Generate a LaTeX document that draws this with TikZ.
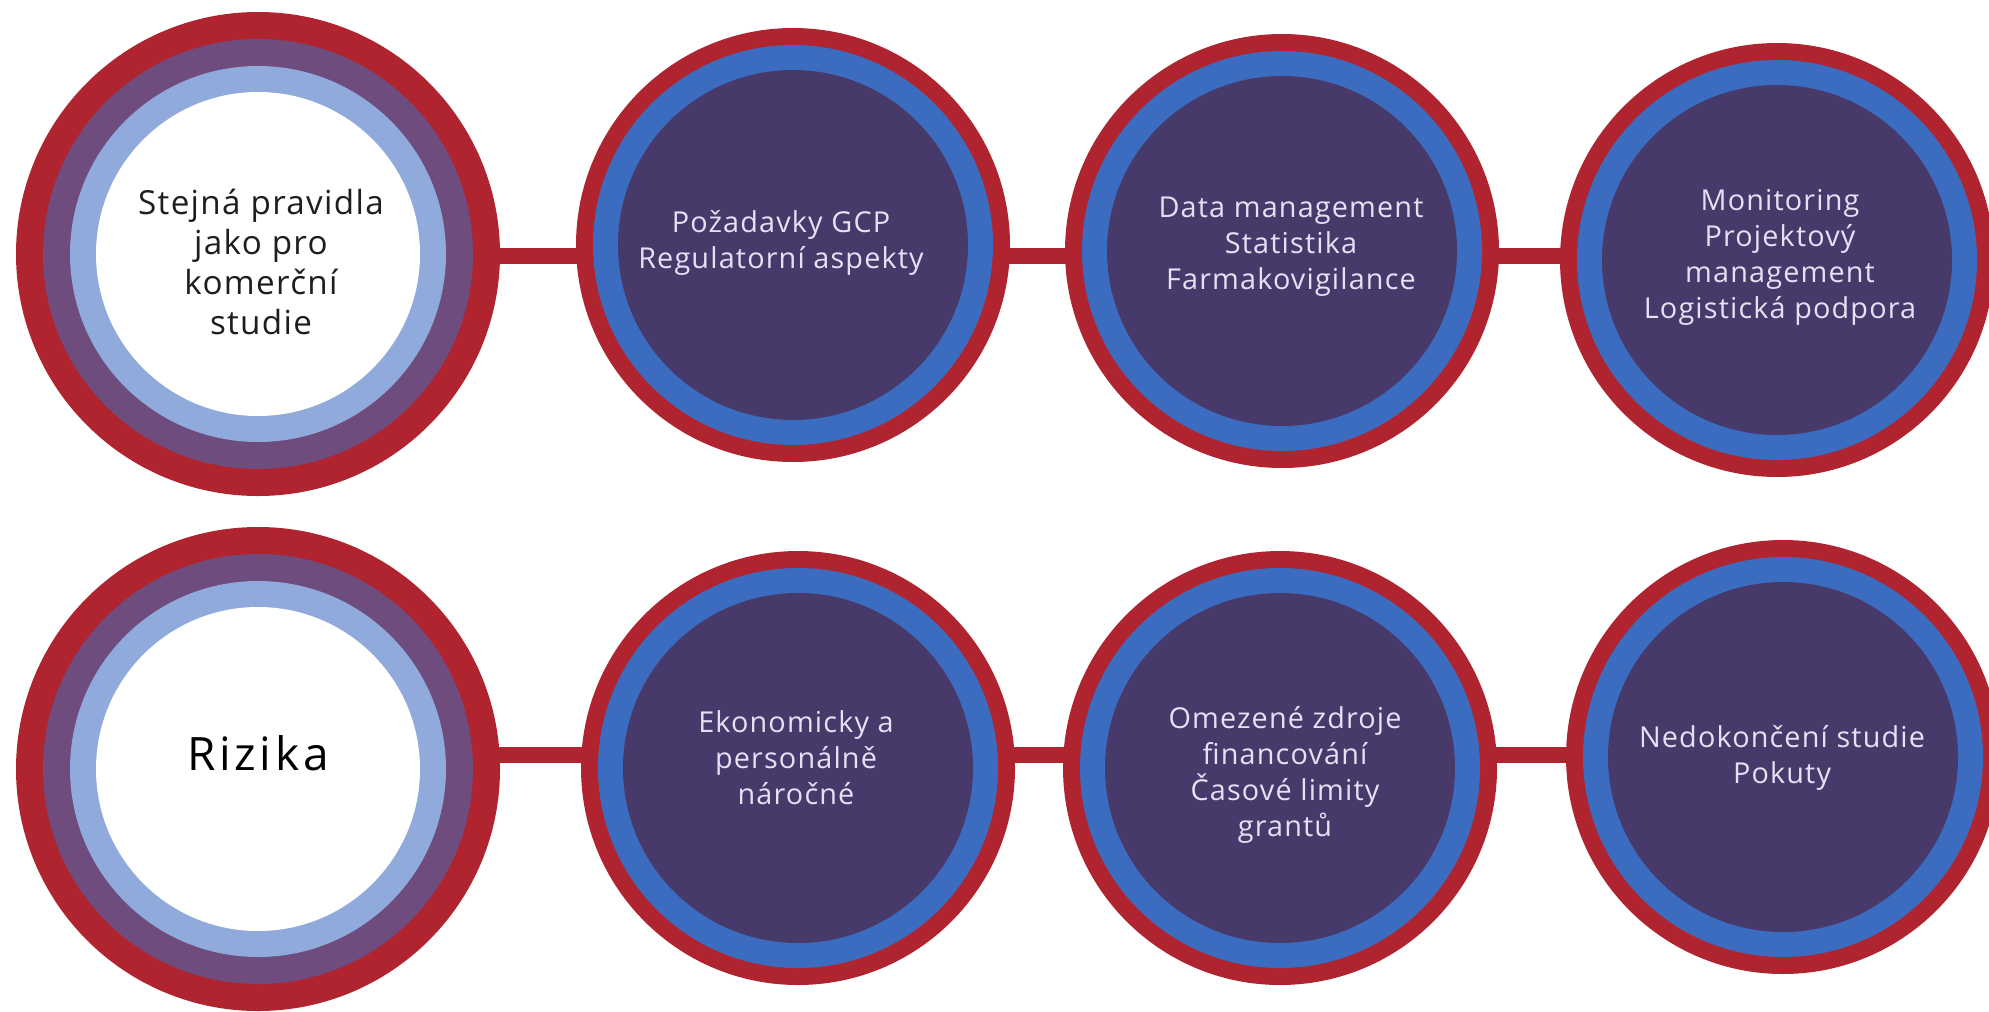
\documentclass[tikz,border=0pt]{standalone}
\usepackage{fontspec}
\setmainfont{Open Sans}[LetterSpace=4]
\newfontfamily\rizfont{Open Sans}[LetterSpace=8]
\usetikzlibrary{backgrounds}
\definecolor{cred}{RGB}{176,36,48}
\definecolor{cpurp}{RGB}{110,76,126}
\definecolor{clblue}{RGB}{143,170,219}
\definecolor{cblue}{RGB}{59,108,192}
\definecolor{cdark}{RGB}{71,58,107}
\definecolor{ctextl}{RGB}{230,224,245}
\definecolor{ctextd}{RGB}{30,30,30}
\tikzset{
  bigc/.style={circle, fill=cred, minimum size=242pt, inner sep=0pt},
  smallc/.style={circle, fill=cred, minimum size=217pt, inner sep=0pt},
  conn/.style={draw=cred, line width=8pt},
  bigtext/.style={align=center, text=ctextd, font=\fontsize{16.6}{20}\selectfont},
  smalltext/.style={align=center, text=ctextl, font=\fontsize{14.4}{18}\selectfont},
  riztext/.style={align=center, text=black, font=\rizfont\fontsize{23}{26}\selectfont}
}
\newcommand{\bigrings}[1]{%
  \fill[cpurp] (#1.center) circle[radius=107.5pt];
  \fill[clblue] (#1.center) circle[radius=94pt];
  \fill[white] (#1.center) circle[radius=81pt];}
\newcommand{\smallrings}[1]{%
  \fill[cblue] (#1.center) circle[radius=100pt];
  \fill[cdark] (#1.center) circle[radius=87.5pt];}
\begin{document}
\begin{tikzpicture}[x=0.5pt,y=-0.5pt]
\useasboundingbox (0,0) rectangle (1989,1011);
% row 1
\node[bigc] (b1) at (258,254) {};
\node[smallc] (c12) at (793,245) {};
\node[smallc] (c13) at (1282,251) {};
\node[smallc] (c14) at (1777,260) {};
% row 2
\node[bigc] (b2) at (258,769) {};
\node[smallc] (c22) at (798,768) {};
\node[smallc] (c23) at (1280,768) {};
\node[smallc] (c24) at (1783,757) {};
\bigrings{b1}
\bigrings{b2}
\smallrings{c12}
\smallrings{c13}
\smallrings{c14}
\smallrings{c22}
\smallrings{c23}
\smallrings{c24}
\coordinate (ya) at (0,256);
\coordinate (yb) at (0,755);
\begin{scope}[on background layer]
\draw[conn] (b1.center |- ya) -- (c12.center |- ya);
\draw[conn] (c12.center |- ya) -- (c13.center |- ya);
\draw[conn] (c13.center |- ya) -- (c14.center |- ya);
\draw[conn] (b2.center |- yb) -- (c22.center |- yb);
\draw[conn] (c22.center |- yb) -- (c23.center |- yb);
\draw[conn] (c23.center |- yb) -- (c24.center |- yb);
\end{scope}
% texts
\node[bigtext] (t1) at (261,262) {Stejná pravidla\\jako pro\\komerční\\studie};
\node[smalltext] (t12) at (781,243) {Požadavky GCP\\Regulatorní aspekty};
\node[smalltext] (t13) at (1291,247) {Data management\\Statistika\\Farmakovigilance};
\node[smalltext] (t14) at (1780,257) {Monitoring\\Projektový\\management\\Logistická podpora};
\node[riztext] (t2) at (258,753) {Rizika};
\node[smalltext] (t22) at (796,758) {Ekonomicky a\\personálně\\náročné};
\node[smalltext] (t23) at (1285,775) {Omezené zdroje\\financování\\Časové limity\\grantů};
\node[smalltext] (t24) at (1782,758) {Nedokončení studie\\Pokuty};
\end{tikzpicture}
\end{document}
